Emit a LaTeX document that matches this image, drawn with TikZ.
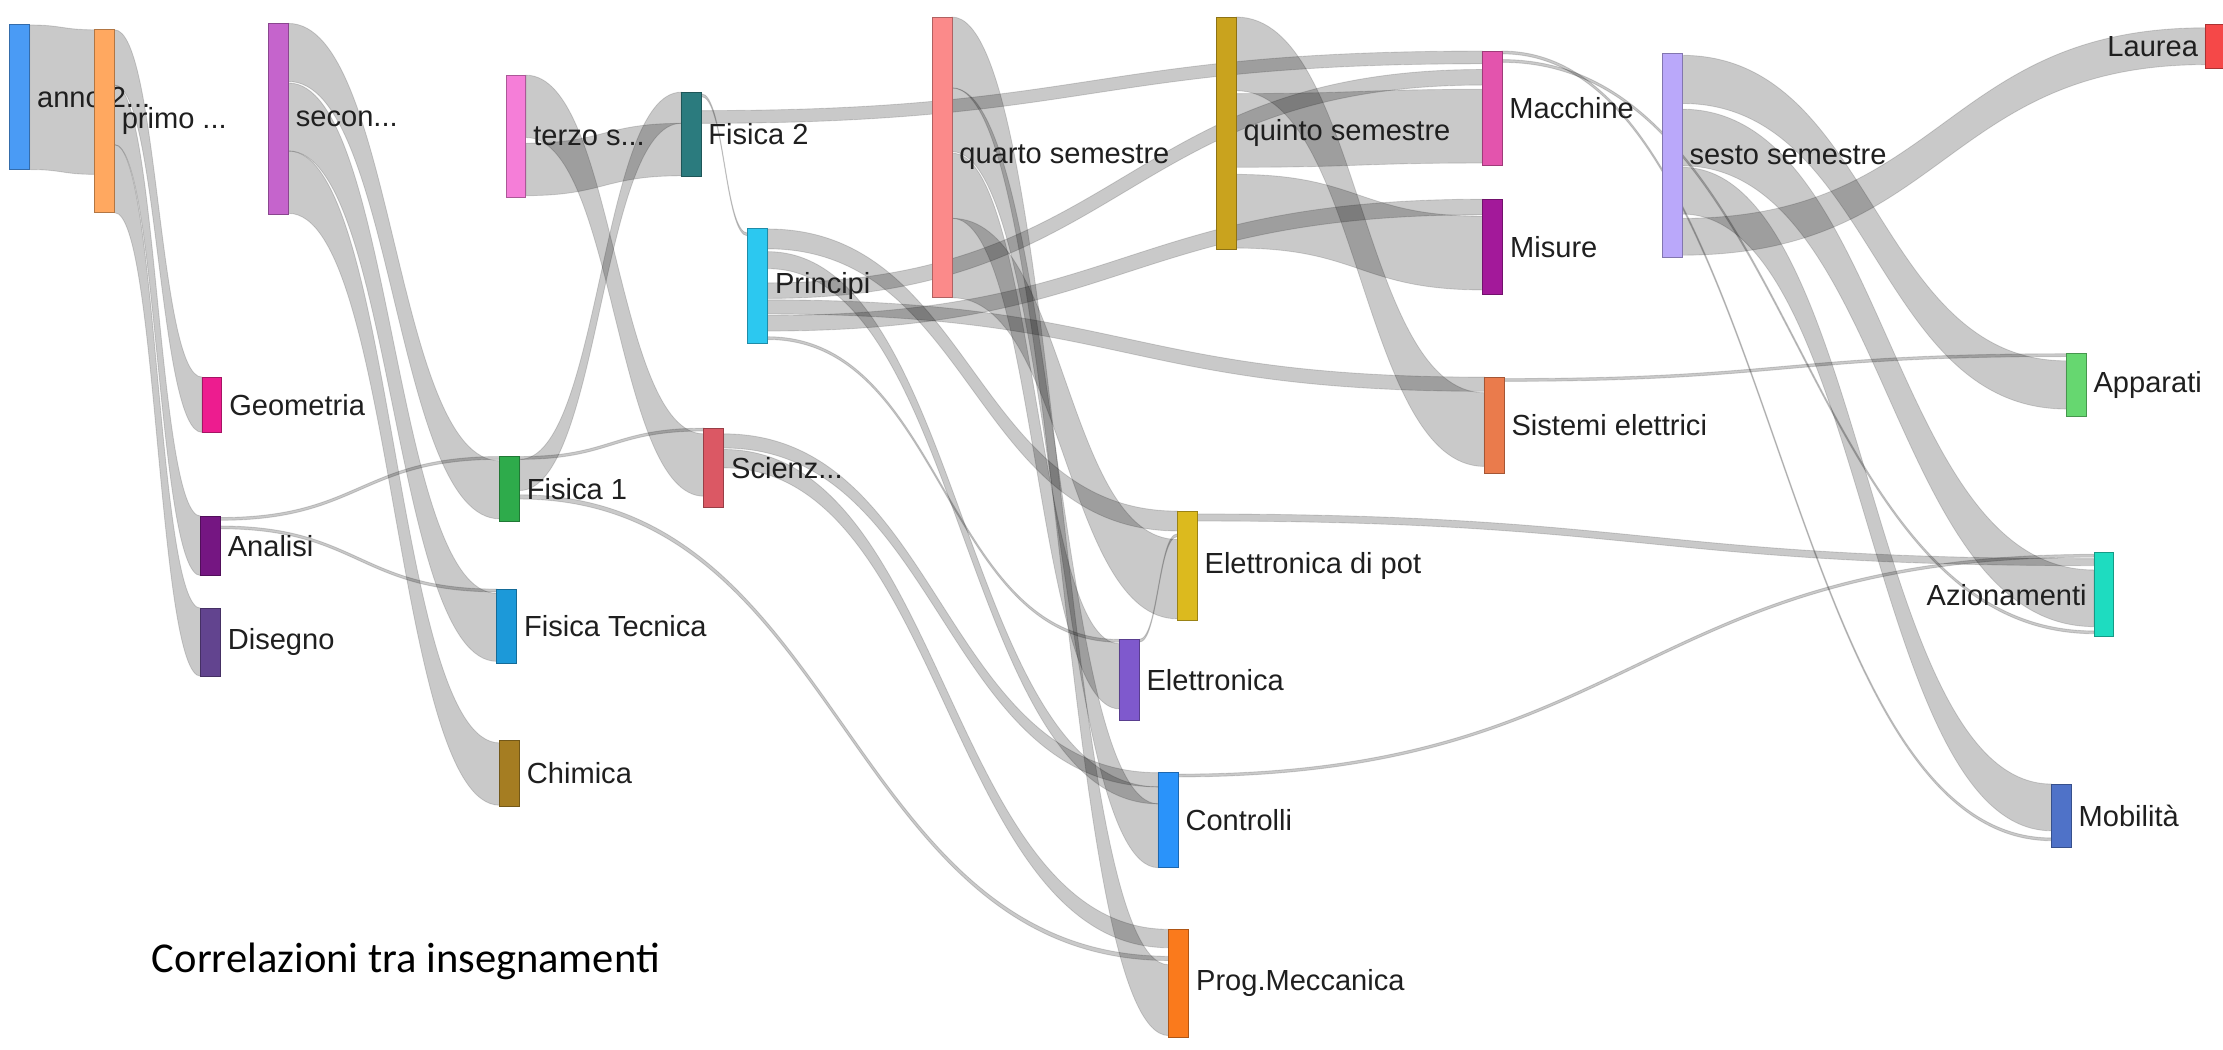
\documentclass[tikz,border=0pt]{standalone}
\usepackage{fontspec}
\setmainfont{Liberation Sans}
\newfontfamily\titlefont{Carlito}
\usetikzlibrary{calc}
\usetikzlibrary{backgrounds}

\definecolor{annoc}{HTML}{4A9BF5}
\definecolor{primoc}{HTML}{FFA860}
\definecolor{seconc}{HTML}{C564CC}
\definecolor{terzoc}{HTML}{F57ED8}
\definecolor{fisduec}{HTML}{2B7B7E}
\definecolor{princc}{HTML}{2CC8F0}
\definecolor{quartoc}{HTML}{FB8A8A}
\definecolor{quintoc}{HTML}{C9A31E}
\definecolor{macchc}{HTML}{E354AD}
\definecolor{misurec}{HTML}{A3199A}
\definecolor{sestoc}{HTML}{BAA8FA}
\definecolor{laureac}{HTML}{F54848}
\definecolor{apparc}{HTML}{66D770}
\definecolor{sistc}{HTML}{EA7B4C}
\definecolor{azionc}{HTML}{1EDCC0}
\definecolor{mobilc}{HTML}{4F72C8}
\definecolor{geomc}{HTML}{ED1C8F}
\definecolor{analc}{HTML}{751682}
\definecolor{disegc}{HTML}{62448F}
\definecolor{fisunoc}{HTML}{2EAB4B}
\definecolor{fistecc}{HTML}{1C99D9}
\definecolor{chimc}{HTML}{A57D22}
\definecolor{scienzc}{HTML}{DB5864}
\definecolor{elpotc}{HTML}{DCBA1E}
\definecolor{elettrc}{HTML}{7F59CD}
\definecolor{contrc}{HTML}{2A93FA}
\definecolor{progmc}{HTML}{FA7A1C}

\tikzset{
  bar/.style={rectangle, draw=#1!70!black, fill=#1, line width=.7pt, minimum width=14pt,
    inner sep=0pt, outer sep=0pt, anchor=north west},
  lab/.style={font=\fontsize{20.5}{24}\selectfont, inner sep=0pt, text=black!88},
  flow/.style={fill=black, fill opacity=.21, draw=black, draw opacity=.14, line width=.6pt},
}

\begin{document}
\begin{tikzpicture}[x=1pt, y=-1pt, label distance=5pt]
\useasboundingbox (0,0) rectangle (1568,740);

\node[bar=annoc, minimum height=102pt, label={[lab]right:anno 2...}] (anno) at (7,17.6) {};
\node[bar=primoc, minimum height=129pt, label={[lab]right:primo ...}] (primo) at (66.7,21) {};
\node[bar=seconc, minimum height=135pt, label={[lab]right:secon...}] (secon) at (189.5,16.5) {};
\node[bar=geomc, minimum height=39pt, label={[lab]right:Geometria}] (geom) at (142.5,266) {};
\node[bar=analc, minimum height=42pt, label={[lab]right:Analisi}] (anal) at (141.5,364) {};
\node[bar=disegc, minimum height=48pt, label={[lab]right:Disegno}] (diseg) at (141.5,429) {};
\node[bar=terzoc, minimum height=86pt, label={[lab]right:terzo s...}] (terzo) at (357,53) {};
\node[bar=fisunoc, minimum height=46pt, label={[lab]right:Fisica 1}] (fisuno) at (352.5,322) {};
\node[bar=fistecc, minimum height=52.5pt, label={[lab]right:Fisica Tecnica}] (fistec) at (350.5,415.5) {};
\node[bar=chimc, minimum height=47pt, label={[lab]right:Chimica}] (chim) at (352.5,522) {};
\node[bar=fisduec, minimum height=59.5pt, label={[lab]right:Fisica 2}] (fisdue) at (480.5,65) {};
\node[bar=scienzc, minimum height=56pt, label={[lab]right:Scienz...}] (scienz) at (496.5,302) {};
\node[bar=princc, minimum height=81pt, label={[lab]right:Principi}] (princ) at (527.5,161.5) {};
\node[bar=quartoc, minimum height=198pt, label={[lab]right:quarto semestre}] (quarto) at (657.5,12) {};
\node[bar=elpotc, minimum height=77.5pt, label={[lab]right:Elettronica di pot}] (elpot) at (830.5,360.5) {};
\node[bar=elettrc, minimum height=57pt, label={[lab]right:Elettronica}] (elettr) at (789.5,451) {};
\node[bar=contrc, minimum height=67pt, label={[lab]right:Controlli}] (contr) at (817,545) {};
\node[bar=progmc, minimum height=76pt, label={[lab]right:Prog.Meccanica}] (progm) at (824.5,655.5) {};
\node[bar=quintoc, minimum height=164pt, label={[lab]right:quinto semestre}] (quinto) at (858,12) {};
\node[bar=macchc, minimum height=81pt, label={[lab]right:Macchine}] (macch) at (1045.5,36) {};
\node[bar=misurec, minimum height=67pt, label={[lab]right:Misure}] (misure) at (1046,140.5) {};
\node[bar=sistc, minimum height=68pt, label={[lab]right:Sistemi elettrici}] (sist) at (1047,266) {};
\node[bar=sestoc, minimum height=143.5pt, label={[lab]right:sesto semestre}] (sesto) at (1172.5,38) {};
\node[bar=laureac, minimum height=30.5pt, label={[lab]left:Laurea}] (laurea) at (1555.5,17.6) {};
\node[bar=apparc, minimum height=44.5pt, label={[lab]right:Apparati}] (appar) at (1457.5,249.5) {};
\node[bar=azionc, minimum height=59pt, label={[lab]left:Azionamenti}] (azion) at (1477,390) {};
\node[bar=mobilc, minimum height=44.5pt, label={[lab]right:Mobilità}] (mobil) at (1447,553) {};

\node[anchor=west, inner sep=0pt, font=\titlefont\fontsize{30}{36}\selectfont] (title) at (107,678) {Correlazioni tra insegnamenti};

\begin{scope}[on background layer]
\fill[white] (0,0) rectangle (1568,740);
\foreach \src/\sy/\tgt/\ty/\bw in {anno/0/primo/0/102, primo/0/geom/0/39, primo/39/anal/0/42,
    primo/81/diseg/0/48, secon/0/fisuno/3/41, secon/42/fistec/3/48, secon/90/chim/2/44,
    anal/1/fisuno/0/2, anal/7/fistec/0/2, terzo/0/scienz/4/44, terzo/48/fisdue/22/37,
    fisuno/2/fisdue/0/22, fisuno/0/scienz/0/2, fisuno/27/progm/19/3, scienz/4/contr/0/10,
    scienz/15/progm/0/13, fisdue/1/princ/3/2, fisdue/13/macch/0/9, princ/0/elpot/0/14,
    princ/16/contr/10/12, princ/38/macch/13/11, princ/50/sist/0/10, princ/61/misure/0/11,
    princ/76/elettr/0/2, quarto/0/progm/25/50, quarto/50/contr/22/45, quarto/96/elettr/3/46,
    quarto/142/elpot/20/56, elettr/0/elpot/16/2, quinto/0/sist/11/52, quinto/54/macch/27/52,
    quinto/111/misure/12/52, macch/0/mobil/38/2, macch/6/azion/55/2, sist/1/appar/0/2,
    elpot/2/azion/4/5, contr/1/azion/1/2, sesto/1/appar/5/34, sesto/39/azion/12/40,
    sesto/80/mobil/0/33, sesto/116/laurea/2/26}
  \path[flow] let \p1=($(\src.north east)+(0,\sy)$), \p2=($(\tgt.north west)+(0,\ty)$),
      \p3=($(\p1)!.5!(\p2)$), \p4=($(\p1)+(0,\bw)$), \p5=($(\p2)+(0,\bw)$) in
    (\p1) .. controls (\x3,\y1) and (\x3,\y2) .. (\p2) -- (\p5)
    .. controls (\x3,\y5) and (\x3,\y4) .. (\p4) -- cycle;
\end{scope}

\end{tikzpicture}
\end{document}
